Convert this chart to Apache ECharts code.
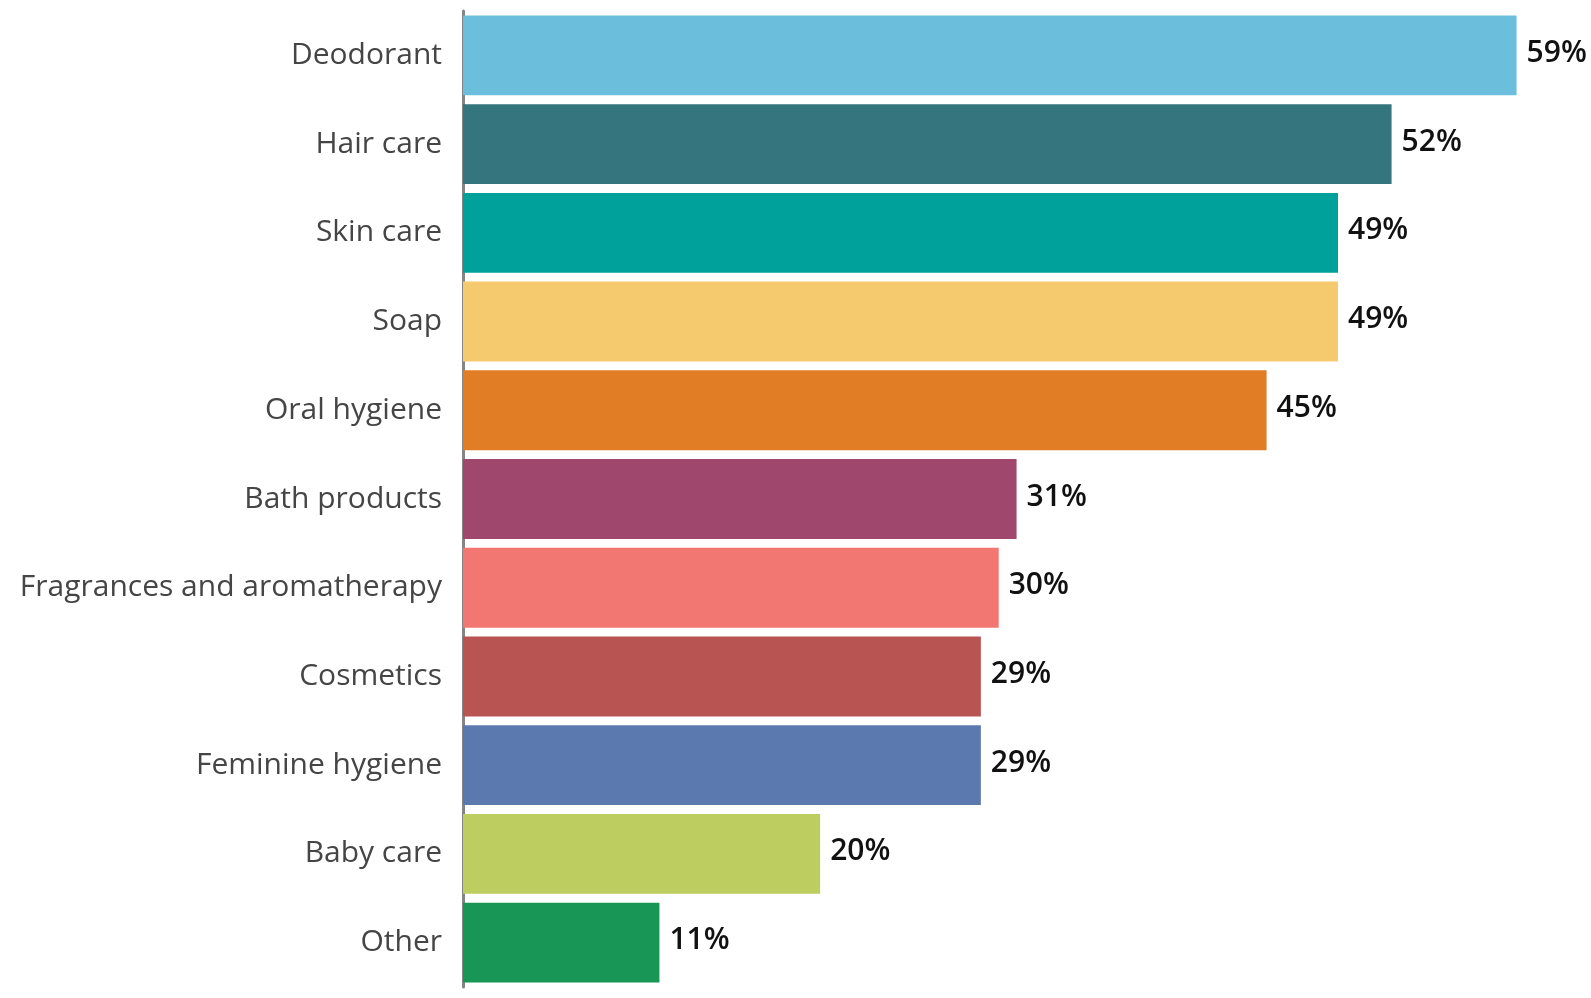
<!DOCTYPE html>
<html>
<head>
<meta charset="utf-8">
<style>
  html, body { margin: 0; padding: 0; background: #ffffff; }
  #chart { width: 1591px; height: 998px; }
</style>
<script src="https://cdn.jsdelivr.net/npm/echarts@6/dist/echarts.min.js"></script>
</head>
<body>
<div id="chart"></div>
<script>
// Categories, top to bottom
const categories = [
  'Deodorant', 'Hair care', 'Skin care', 'Soap', 'Oral hygiene', 'Bath products',
  'Fragrances and aromatherapy', 'Cosmetics', 'Feminine hygiene', 'Baby care', 'Other'
];
// Share of respondents, percent
const values = [59, 52, 49, 49, 45, 31, 30, 29, 29, 20, 11];
const barColors = [
  '#6BBEDC', '#35757E', '#00A19A', '#F5CA6E', '#E07D25', '#A0476D',
  '#F27672', '#B85552', '#5B79AE', '#BECD5F', '#189656'
];

const chart = echarts.init(document.getElementById('chart'));
const fontFamily = '"Open Sans", "Noto Sans", sans-serif';

chart.setOption({
  animation: false,
  grid: { left: 463, right: 3, top: 11, bottom: 11, containLabel: false },
  xAxis: {
    type: 'value',
    min: 0,
    max: 63,
    show: false
  },
  yAxis: {
    type: 'category',
    inverse: true,
    data: categories,
    axisLine: { show: true, lineStyle: { color: '#858585', width: 3 } },
    axisTick: { show: false },
    axisLabel: {
      margin: 21,
      color: '#454545',
      fontSize: 30,
      fontWeight: 500,
      fontFamily: fontFamily,
      padding: [0, 0, 6, 0]
    }
  },
  series: [{
    type: 'bar',
    data: values.map((v, i) => ({ value: v, itemStyle: { color: barColors[i] } })),
    barCategoryGap: '10%',
    label: {
      show: true,
      position: 'right',
      distance: 10,
      offset: [0, -2],
      formatter: '{c}%',
      color: '#111111',
      fontSize: 30,
      fontWeight: 600,
      fontFamily: fontFamily
    }
  }]
});
</script>
</body>
</html>
